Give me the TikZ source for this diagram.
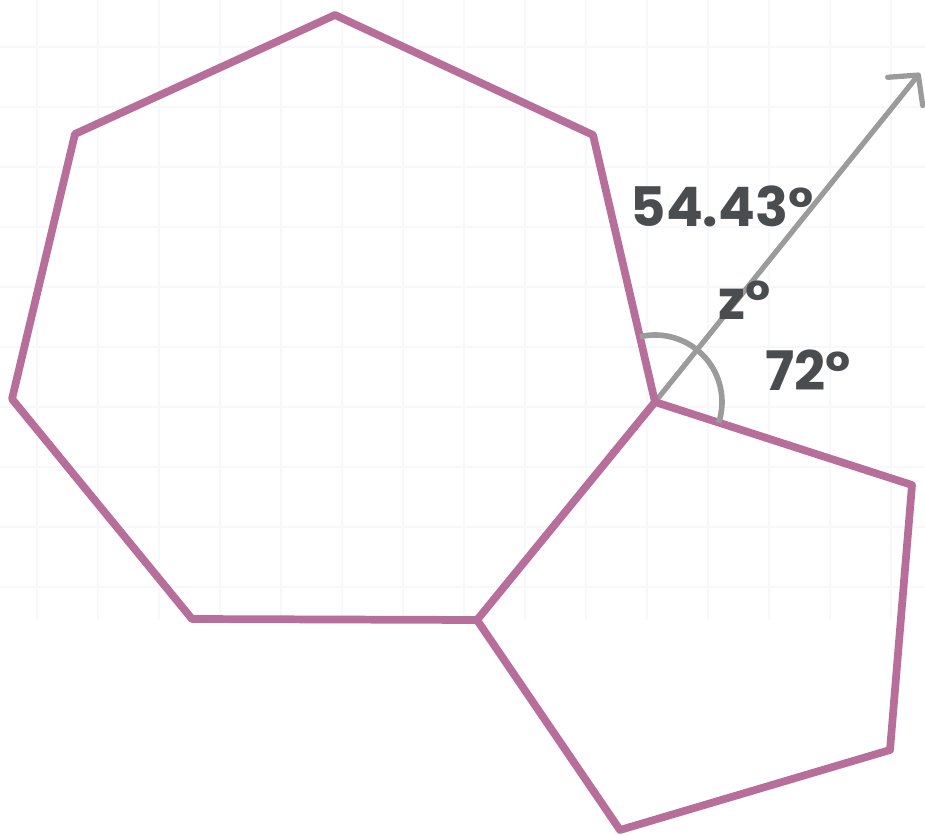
\documentclass[tikz,border=0pt]{standalone}
\usepackage{fontspec}
\usepackage{tikz}
\usetikzlibrary{arrows.meta,calc}
\newfontfamily\handfont{Poppins}
\definecolor{plum}{HTML}{B86E9A}
\definecolor{rayg}{HTML}{9B9B9B}
\definecolor{inkg}{HTML}{4A4D4F}
\definecolor{gridg}{HTML}{F7F8FA}

\begin{document}
\begin{tikzpicture}[
  x=0.02cm, y=-0.02cm,
  poly/.style={draw=plum, line width=4.4pt, line join=round},
  ray/.style={draw=rayg, line width=3pt, line cap=round,
              -{Straight Barb[length=4.2mm, width=9mm, round]}},
  anglemark/.style={draw=rayg, line width=3.2pt},
  lbl/.style={font=\handfont\bfseries\fontsize{31}{36}\selectfont, text=inkg, inner sep=0pt},
]
\useasboundingbox (0,0) rectangle (925,834);

% ---------- faint background grid ----------
\foreach \gx in {37,98,...,925} \draw[gridg, line width=0.6pt] (\gx,0) -- (\gx,620);
\foreach \gy in {47,107,...,620} \draw[gridg, line width=0.6pt] (0,\gy) -- (925,\gy);

% ---------- heptagon ----------
\coordinate (h1) at (335,15);
\coordinate (h2) at (593,135);
\coordinate (V)  at (655,402);
\coordinate (W)  at (477,620);
\coordinate (h5) at (192,619);
\coordinate (h6) at (12,399);
\coordinate (h7) at (75,134);

% ---------- pentagon (shares edge V--W) ----------
\coordinate (p1) at (912,485);
\coordinate (p2) at (890,750);
\coordinate (p3) at (620,830);

% ---------- arrow tip ----------
\coordinate (tip) at (920,73);

\draw[ray] (V) -- (tip);
\draw[poly] (h1) -- (h2) -- (V) -- (W) -- (h5) -- (h6) -- (h7) -- cycle;
\draw[poly] (V) -- (p1) -- (p2) -- (p3) -- (W);

% ===== angle arc at V, heptagon edge to pentagon edge =====
\draw[anglemark] ($(V)+(103:1.34cm)$) arc[start angle=103, end angle=-18, radius=1.34cm];

% ===== angle labels =====
\node[lbl] (ext) at (722,206) {54.43°};
\node[lbl] (zz)  at (745,300) {z°};
\node[lbl] (pen) at (808,370) {72°};

\end{tikzpicture}
\end{document}
